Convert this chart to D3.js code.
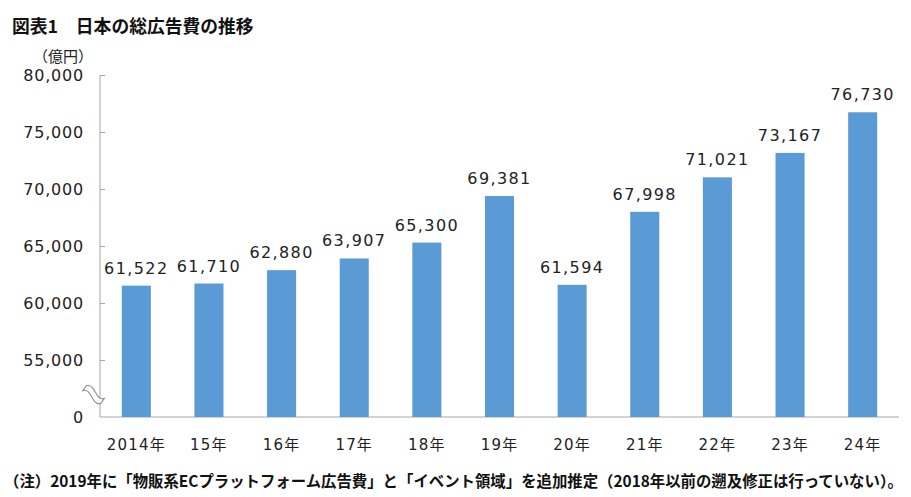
<!DOCTYPE html>
<html>
<head>
<meta charset="utf-8">
<script src="https://cdn.jsdelivr.net/npm/d3@7"></script>
<style>
  html, body { margin: 0; padding: 0; background: #fff; }
  svg { display: block; }
</style>
</head>
<body>
<div id="chart"></div>
<script>
// data
var years = ["2014年", "15年", "16年", "17年", "18年", "19年", "20年", "21年", "22年", "23年", "24年"];
var totals = [61522, 61710, 62880, 63907, 65300, 69381, 61594, 67998, 71021, 73167, 76730];
var yTicks = [50000, 55000, 60000, 65000, 70000, 75000, 80000];

var title = "図表1　日本の総広告費の推移";
var unitLabel = "（億円）";
var note = "（注）2019年に「物販系ECプラットフォーム広告費」と「イベント領域」を追加推定（2018年以前の遡及修正は行っていない）。";

var width = 911, height = 497;
var numFont = "'DejaVu Sans', 'Noto Sans CJK JP', sans-serif";
var jpFont = "'Noto Sans CJK JP', 'Noto Sans', sans-serif";

var svg = d3.select("#chart").append("svg")
    .attr("width", width)
    .attr("height", height);

// scales -- the axis is broken, bottom of the plot stands for "0"
var x = d3.scaleBand()
    .domain(years)
    .range([100, 899])
    .paddingInner(0.6)
    .paddingOuter(0.3);

var y = d3.scaleLinear()
    .domain([50000, 80000])
    .range([417, 75]);

var fmt = d3.format(",");

// title
svg.append("text")
    .attr("x", 12)
    .attr("y", 33)
    .style("font-family", jpFont)
    .style("font-weight", "bold")
    .style("font-size", "17.8px")
    .style("fill", "#111")
    .text(title);

// unit
svg.append("text")
    .attr("x", 33)
    .attr("y", 62)
    .style("font-family", jpFont)
    .style("font-size", "15px")
    .style("fill", "#222")
    .text(unitLabel);

// y axis
var yAxis = d3.axisRight(y)
    .tickValues(yTicks)
    .tickSize(5)
    .tickFormat(function (d) { return d === 50000 ? "0" : fmt(d); });

var gy = svg.append("g")
    .attr("transform", "translate(100,0)")
    .call(yAxis);

gy.select(".domain").attr("stroke", "#a6a6a6").attr("d", "M0," + y(80000) + "V" + y(50000));
gy.selectAll(".tick line").attr("stroke", "#a6a6a6");
gy.selectAll(".tick text")
    .attr("x", -16)
    .attr("dy", "0.36em")
    .style("text-anchor", "end")
    .style("font-family", numFont)
    .style("font-size", "16px")
    .style("letter-spacing", "0.8px")
    .style("fill", "#222");
gy.select(".tick line").remove(); // no tick at the baseline

// x axis
var gx = svg.append("g")
    .attr("transform", "translate(0," + y(50000) + ")")
    .call(d3.axisBottom(x).tickSize(0));

gx.select(".domain").attr("stroke", "#a6a6a6").attr("d", "M100,0H899");
gx.selectAll(".tick text")
    .attr("y", 0)
    .attr("dy", 33)
    .style("font-family", numFont)
    .style("font-size", "15px")
    .style("letter-spacing", "1.2px")
    .style("fill", "#222");

// bars
svg.selectAll("rect.bar")
    .data(totals)
    .enter().append("rect")
    .attr("class", "bar")
    .attr("x", function (d, i) { return x(years[i]); })
    .attr("y", function (d) { return y(d); })
    .attr("width", x.bandwidth())
    .attr("height", function (d) { return y(50000) - y(d); })
    .style("fill", "#5b9bd5");

// value labels
svg.selectAll("text.val")
    .data(totals)
    .enter().append("text")
    .attr("class", "val")
    .attr("x", function (d, i) { return x(years[i]) + x.bandwidth() / 2; })
    .attr("y", function (d) { return y(d) - 12; })
    .style("text-anchor", "middle")
    .style("font-family", numFont)
    .style("font-size", "16px")
    .style("letter-spacing", "1.4px")
    .style("fill", "#222")
    .text(function (d) { return fmt(d); });

// break mark on the y axis
var bx = 93, by = y(51900);
svg.append("path")
    .attr("d", "M-11,-4C-5,-12 5,4 11,-4L11,2C5,10 -5,-6 -11,2Z")
    .attr("transform", "translate(" + bx + "," + by + ") rotate(35)")
    .style("fill", "#fff")
    .style("stroke", "#888")
    .style("stroke-width", 1);

// footnote, sized so it spans the same width as the original
var noteText = svg.append("text")
    .attr("x", 4)
    .attr("y", 487)
    .style("font-family", jpFont)
    .style("font-weight", "bold")
    .style("font-size", "15px")
    .style("fill", "#111")
    .text(note);
var natural = noteText.node().getComputedTextLength();
noteText.style("font-size", (15 * 900 / natural) + "px");
</script>
</body>
</html>
